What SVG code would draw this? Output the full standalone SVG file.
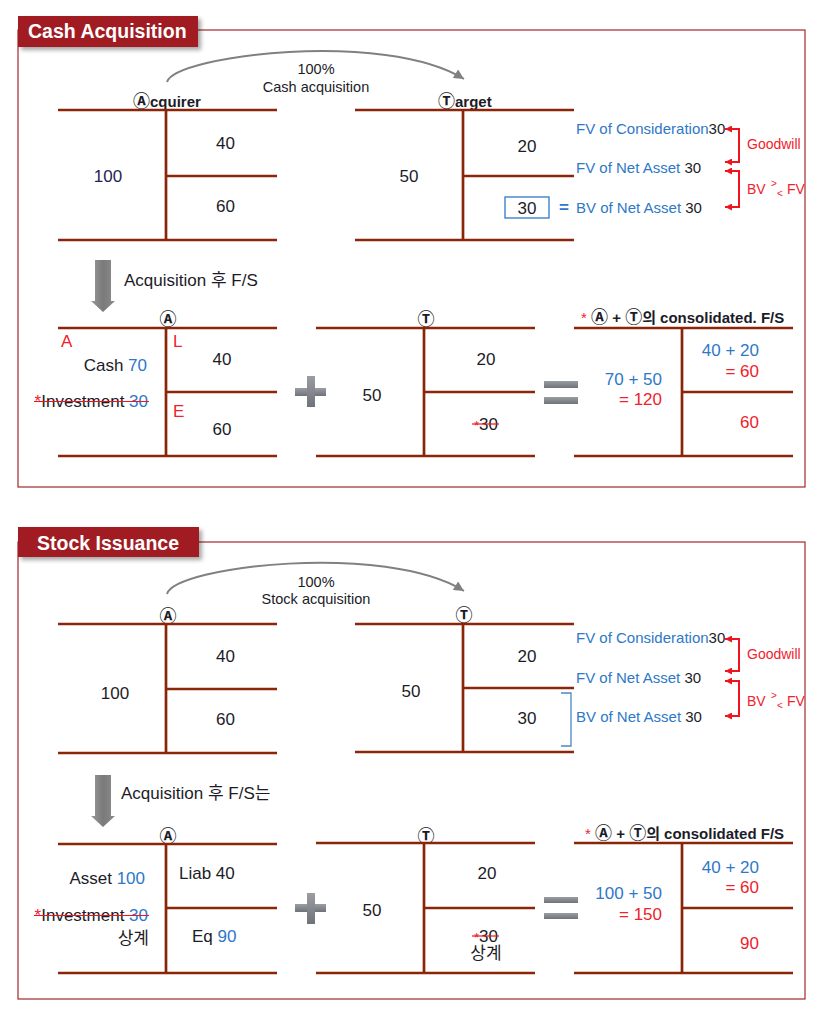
<svg xmlns="http://www.w3.org/2000/svg" width="814" height="1012" viewBox="0 0 814 1012">
<style>
text{font-family:"Liberation Sans","Noto Sans CJK KR",sans-serif;fill:#1c1c28}
.frame{fill:none;stroke:#A3282A;stroke-width:1.2}
.title{fill:#A11F24}
.ttl{font-size:19.5px;font-weight:bold;fill:#fff}
.acc{fill:none;stroke:#8A2508;stroke-width:2.7}
.n{font-size:17px;text-anchor:middle}
.b{fill:#2E78C8}
.r{fill:#F0222B}
.fv{font-size:15px}
.gw{font-size:14px;fill:#F0222B}
.hd{font-size:15px;font-weight:bold}
.circ{font-family:"Noto Sans CJK KR","DejaVu Sans",sans-serif;font-size:17px}
.arc{fill:none;stroke:#808080;stroke-width:2}
.brk{fill:none;stroke:#F0141E;stroke-width:2}
.strike{stroke:#F0141E;stroke-width:1.2}
.lbl{font-size:14.5px;text-anchor:middle}
.end{text-anchor:end}
.cm{text-anchor:middle;font-weight:bold}
</style>
<defs>
<filter id="sh" x="-10%" y="-20%" width="130%" height="160%">
<feDropShadow dx="3" dy="3" stdDeviation="2" flood-color="#000" flood-opacity="0.35"/>
</filter>
<linearGradient id="gv" x1="0" y1="0" x2="1" y2="0">
<stop offset="0" stop-color="#9a9a9a"/><stop offset="0.5" stop-color="#7a7a7a"/><stop offset="1" stop-color="#8c8c8c"/>
</linearGradient>
<linearGradient id="gp" x1="0" y1="0" x2="0" y2="1">
<stop offset="0" stop-color="#9a9da2"/><stop offset="1" stop-color="#6f7278"/>
</linearGradient>
<marker id="ga" viewBox="0 0 10 10" refX="10" refY="5" markerWidth="11" markerHeight="10" markerUnits="userSpaceOnUse" orient="auto">
<path d="M0,0 L10,5 L0,10 z" fill="#808080"/>
</marker>
<marker id="ra" viewBox="0 0 10 10" refX="10" refY="5" markerWidth="8" markerHeight="7" markerUnits="userSpaceOnUse" orient="auto-start-reverse">
<path d="M0,0 L10,5 L0,10 z" fill="#F0141E"/>
</marker>
</defs>
<rect width="814" height="1012" fill="#fff"/>

<!-- ========== Section 1 ========== -->
<g id="section-cash">
<rect class="frame" x="18" y="30" width="787" height="457"/>
<rect class="title" x="18" y="16" width="180" height="31" filter="url(#sh)"/>
<text class="ttl" x="28" y="38">Cash Acquisition</text>
</g>

<g id="acquirer-before">
<text class="hd" x="133" y="107"><tspan class="circ">Ⓐ</tspan>cquirer</text>
<path class="acc" d="M58,110 H277 M166,110 V240 M166,176 H277 M58,240 H277"/>
<text class="n" x="108" y="182" style="fill:#1f2550">100</text>
<text class="n" x="225.5" y="149">40</text>
<text class="n" x="225.5" y="212">60</text>
</g>

<g id="target-before">
<text class="hd" x="438" y="107"><tspan class="circ">Ⓣ</tspan>arget</text>
<path class="acc" d="M355,110 H574 M463,110 V240 M463,176 H574 M355,240 H574"/>
<text class="n" x="409" y="182">50</text>
<text class="n" x="527" y="152">20</text>
<rect x="505" y="197" width="44" height="21" fill="none" stroke="#2E78C8" stroke-width="1.3"/>
<text class="n" x="527" y="214">30</text>
<text x="564" y="213" style="font-size:17px;font-weight:bold;text-anchor:middle;fill:#2E78C8">=</text>
</g>

<g id="fv-labels-1">
<text class="fv" x="576" y="134"><tspan class="b">FV of Consideration</tspan>30</text>
<text class="fv" x="576" y="173"><tspan class="b">FV of Net Asset </tspan>30</text>
<text class="fv" x="576" y="213"><tspan class="b">BV of Net Asset </tspan>30</text>
<text class="gw" x="747" y="149">Goodwill</text>
<text class="gw" x="747" y="194">BV <tspan x="771" dy="-7" style="font-size:10px">&gt;</tspan><tspan x="777" dy="10" style="font-size:10px">&lt;</tspan><tspan x="787" dy="-3">FV</tspan></text>
</g>

<g id="arc-label-1">
<text class="lbl" x="316" y="74">100%</text>
<text class="lbl" x="316" y="92">Cash acquisition</text>
</g>

<g id="step-1">
<text x="124" y="286" style="font-size:17px">Acquisition 후 F/S</text>
</g>

<g id="acquirer-after-1">
<text class="circ cm" x="168" y="325">Ⓐ</text>
<path class="acc" d="M58,328 H277 M166,328 V456 M166,392 H277 M58,456 H277"/>
<text class="r" x="61" y="347" style="font-size:17px">A</text>
<text class="r" x="173" y="347" style="font-size:17px">L</text>
<text class="r" x="173" y="417" style="font-size:17px">E</text>
<text class="end" x="147" y="371" style="font-size:17px">Cash <tspan class="b">70</tspan></text>
<text class="end" x="148" y="407" style="font-size:17px"><tspan class="r">*</tspan>Investment <tspan class="b">30</tspan></text>
<line class="strike" x1="34" y1="401.5" x2="149" y2="401.5"/>
<text class="n" x="222" y="365">40</text>
<text class="n" x="222" y="435">60</text>
</g>

<g id="plus-1">
<rect x="295" y="388" width="31" height="8" fill="url(#gp)"/>
<rect x="307" y="376" width="8" height="31" fill="url(#gp)"/>
</g>

<g id="target-after-1">
<text class="circ cm" x="426" y="325">Ⓣ</text>
<path class="acc" d="M316,328 H535 M424,328 V456 M424,392 H535 M316,456 H535"/>
<text class="n" x="372" y="401">50</text>
<text class="n" x="486" y="365">20</text>
<text class="n" x="486" y="430"><tspan class="r" style="font-size:13px">*</tspan>30</text>
<line class="strike" x1="472" y1="424" x2="499" y2="424"/>
</g>

<g id="equals-1">
<rect x="544" y="381" width="34" height="7" fill="url(#gp)"/>
<rect x="544" y="397" width="34" height="7" fill="url(#gp)"/>
</g>

<g id="consolidated-1">
<text class="hd" x="581" y="323"><tspan class="r" style="font-weight:normal">* </tspan><tspan class="circ">Ⓐ</tspan> + <tspan class="circ">Ⓣ</tspan>의 consolidated. F/S</text>
<path class="acc" d="M574,328 H793 M682,328 V456 M682,392 H793 M574,456 H793"/>
<text class="end b" x="662" y="385" style="font-size:17px">70 + 50</text>
<text class="end r" x="662" y="405" style="font-size:17px">= 120</text>
<text class="end b" x="759" y="356" style="font-size:17px">40 + 20</text>
<text class="end r" x="759" y="377" style="font-size:17px">= 60</text>
<text class="end r" x="759" y="428" style="font-size:17px">60</text>
</g>

<!-- ========== Section 2 ========== -->
<g id="section-stock">
<rect class="frame" x="18" y="542" width="787" height="457"/>
<rect class="title" x="18" y="527" width="181" height="30" filter="url(#sh)"/>
<text class="ttl" x="37" y="550">Stock Issuance</text>
</g>

<g id="acquirer-before-2">
<text class="circ cm" x="168" y="622">Ⓐ</text>
<path class="acc" d="M58,624 H277 M166,624 V753 M166,689 H277 M58,753 H277"/>
<text class="n" x="115" y="699">100</text>
<text class="n" x="225.5" y="662">40</text>
<text class="n" x="225.5" y="725">60</text>
</g>

<g id="target-before-2">
<text class="circ cm" x="464" y="621">Ⓣ</text>
<path class="acc" d="M355,624 H574 M463,624 V752 M463,688 H574 M355,752 H574"/>
<text class="n" x="411" y="697">50</text>
<text class="n" x="527" y="662">20</text>
<text class="n" x="527" y="724">30</text>
</g>

<g id="fv-labels-2">
<text class="fv" x="576" y="643"><tspan class="b">FV of Consideration</tspan>30</text>
<text class="fv" x="576" y="683"><tspan class="b">FV of Net Asset </tspan>30</text>
<text class="fv" x="576" y="722"><tspan class="b">BV of Net Asset </tspan>30</text>
<text class="gw" x="747" y="659">Goodwill</text>
<text class="gw" x="747" y="706">BV <tspan x="771" dy="-7" style="font-size:10px">&gt;</tspan><tspan x="777" dy="10" style="font-size:10px">&lt;</tspan><tspan x="787" dy="-3">FV</tspan></text>
</g>

<g id="arc-label-2">
<text class="lbl" x="316" y="587">100%</text>
<text class="lbl" x="316" y="604">Stock acquisition</text>
</g>

<g id="step-2">
<text x="121" y="799" style="font-size:17px">Acquisition 후 F/S는</text>
</g>

<g id="acquirer-after-2">
<text class="circ cm" x="168" y="842">Ⓐ</text>
<path class="acc" d="M58,844 H277 M166,844 V973 M166,908 H277 M58,973 H277"/>
<text class="end" x="145" y="884" style="font-size:17px">Asset <tspan class="b">100</tspan></text>
<text class="end" x="148" y="921" style="font-size:17px"><tspan class="r">*</tspan>Investment <tspan class="b">30</tspan></text>
<line class="strike" x1="34" y1="915.5" x2="149" y2="915.5"/>
<text class="end" x="149" y="944" style="font-size:17px">상계</text>
<text x="179" y="879" style="font-size:17px">Liab 40</text>
<text x="192" y="942" style="font-size:17px">Eq <tspan class="b">90</tspan></text>
</g>

<g id="plus-2">
<rect x="295" y="904" width="31" height="8" fill="url(#gp)"/>
<rect x="307" y="893" width="8" height="31" fill="url(#gp)"/>
</g>

<g id="target-after-2">
<text class="circ cm" x="426" y="842">Ⓣ</text>
<path class="acc" d="M316,843 H535 M424,843 V973 M424,908 H535 M316,973 H535"/>
<text class="n" x="372" y="916">50</text>
<text class="n" x="487" y="879">20</text>
<text class="n" x="486" y="942"><tspan class="r" style="font-size:13px">*</tspan>30</text>
<line class="strike" x1="472" y1="936" x2="499" y2="936"/>
<text class="n" x="486" y="959">상계</text>
</g>

<g id="equals-2">
<rect x="544" y="897" width="34" height="6" fill="url(#gp)"/>
<rect x="544" y="913" width="34" height="6" fill="url(#gp)"/>
</g>

<g id="consolidated-2">
<text class="hd" x="585" y="839"><tspan class="r" style="font-weight:normal">* </tspan><tspan class="circ">Ⓐ</tspan> + <tspan class="circ">Ⓣ</tspan>의 consolidated F/S</text>
<path class="acc" d="M574,843 H793 M682,843 V973 M682,908 H793 M574,973 H793"/>
<text class="end b" x="662" y="899" style="font-size:17px">100 + 50</text>
<text class="end r" x="662" y="920" style="font-size:17px">= 150</text>
<text class="end b" x="759" y="873" style="font-size:17px">40 + 20</text>
<text class="end r" x="759" y="893" style="font-size:17px">= 60</text>
<text class="end r" x="759" y="949" style="font-size:17px">90</text>
</g>

<!-- ========== Connectors ========== -->
<g id="connectors">
<path class="arc" d="M167,82 C175,55 385,30 464,79" marker-end="url(#ga)"/>
<path class="arc" d="M167,594 C175,566 385,542 464,591" marker-end="url(#ga)"/>
<path class="brk" d="M725,129 H739 V162 H725" marker-start="url(#ra)" marker-end="url(#ra)"/>
<path class="brk" d="M725,171 H739 V207 H725" marker-start="url(#ra)" marker-end="url(#ra)"/>
<path class="brk" d="M725,639 H739 V671 H725" marker-start="url(#ra)" marker-end="url(#ra)"/>
<path class="brk" d="M725,681 H739 V716 H725" marker-start="url(#ra)" marker-end="url(#ra)"/>
<path d="M561,693 H571 V746 H561" fill="none" stroke="#4A86C8" stroke-width="1.3"/>
<polygon points="95,260 111,260 111,301 115,301 103,312 91,301 95,301" fill="url(#gv)"/>
<polygon points="95,775 111,775 111,816 115,816 103,827 91,816 95,816" fill="url(#gv)"/>
</g>
</svg>
